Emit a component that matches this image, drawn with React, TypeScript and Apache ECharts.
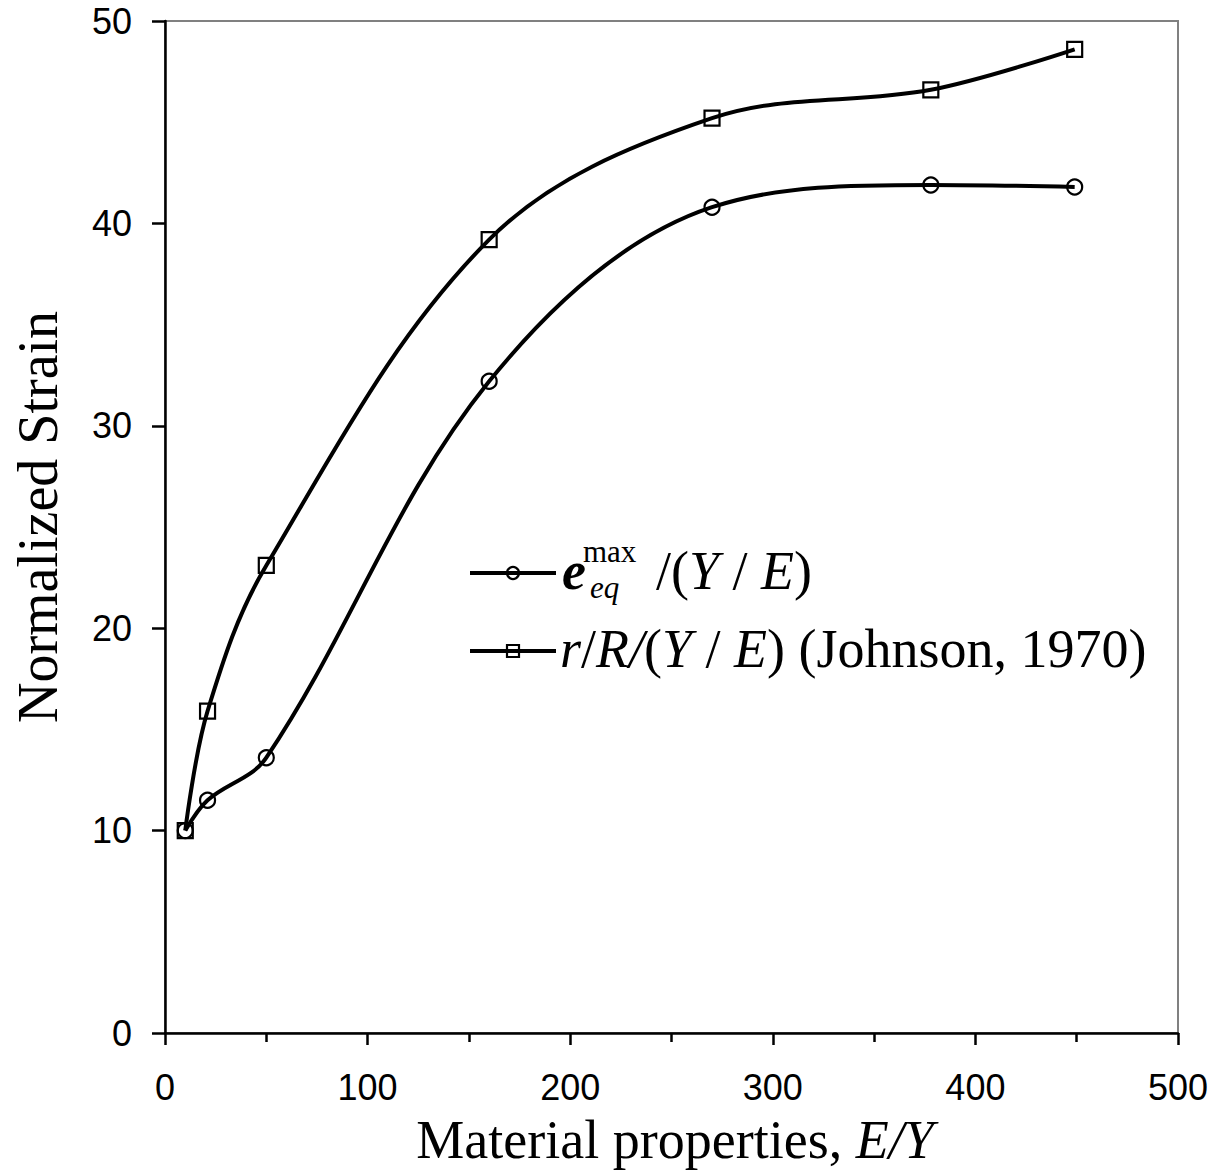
import React, { useEffect, useRef } from "react";
import * as echarts from "echarts";

const xValues = [10, 21, 50, 160, 270, 378, 449];
const strainMax = [10, 11.5, 13.6, 32.2, 40.8, 41.9, 41.8];
const johnson = [10, 15.9, 23.1, 39.2, 45.2, 46.6, 48.6];
const xTitle = "Material properties, ";
const xTitleItalic = "E/Y";
const yTitle = "Normalized Strain";

const SERIF = "'Liberation Serif', 'Times New Roman', serif";
const SANS = "'Liberation Sans', Arial, sans-serif";

export default function App() {
  const ref = useRef<HTMLDivElement>(null);
  useEffect(() => {
    if (!ref.current) return;
    const chart = echarts.init(ref.current, undefined, { renderer: "svg" });
    const pts = (ys: number[]) => xValues.map((x, i) => [x, ys[i]]);
    const lineStyle = { color: "#000", width: 4 };
    const itemStyle = { color: "transparent", borderColor: "#000", borderWidth: 2.2 };
    chart.setOption({
      animation: false,
      backgroundColor: "#fff",
      grid: {
        left: 165,
        right: 46,
        top: 21,
        bottom: 140,
        show: true,
        borderColor: "#808080",
        borderWidth: 2,
        backgroundColor: "transparent",
      },
      xAxis: {
        type: "value",
        min: 0,
        max: 500,
        interval: 100,
        axisLine: { show: true, onZero: false, lineStyle: { color: "#000", width: 2.5 } },
        axisTick: { show: true, inside: false, length: 12, lineStyle: { color: "#000", width: 2.5 } },
        minorTick: { show: true, splitNumber: 2, length: 9, lineStyle: { color: "#000", width: 2.5 } },
        splitLine: { show: false },
        axisLabel: { color: "#000", fontFamily: SANS, fontSize: 36, margin: 36 },
        name: "",
      },
      yAxis: {
        type: "value",
        min: 0,
        max: 50,
        interval: 10,
        axisLine: { show: true, onZero: false, lineStyle: { color: "#000", width: 2.5 } },
        axisTick: { show: true, inside: false, length: 13, lineStyle: { color: "#000", width: 2.5 } },
        splitLine: { show: false },
        axisLabel: { color: "#000", fontFamily: SANS, fontSize: 36, margin: 33 },
      },
      graphic: [
        {
          type: "text",
          x: 675,
          y: 1140,
          style: {
            text: "{n|" + xTitle + "}{i|" + xTitleItalic + "}",
            align: "center",
            verticalAlign: "middle",
            rich: {
              n: { fontFamily: SERIF, fontSize: 54, fill: "#000" },
              i: { fontFamily: SERIF, fontSize: 54, fontStyle: "italic", fill: "#000" },
            },
          },
        },
        {
          type: "text",
          x: 38,
          y: 517,
          rotation: Math.PI / 2,
          style: {
            text: yTitle,
            align: "center",
            verticalAlign: "middle",
            fontFamily: SERIF,
            fontSize: 56,
            fill: "#000",
          },
        },
        // legend line 1
        { type: "line", shape: { x1: 470, y1: 573, x2: 556, y2: 573 }, style: { stroke: "#000", lineWidth: 4 } },
        { type: "circle", shape: { cx: 513, cy: 573, r: 6 }, style: { fill: "transparent", stroke: "#000", lineWidth: 2.2 } },
        {
          type: "text",
          x: 562,
          y: 571,
          style: { text: "e", fontFamily: SERIF, fontSize: 54, fontWeight: "bold", fontStyle: "italic", fill: "#000", verticalAlign: "middle" },
        },
        {
          type: "text",
          x: 583,
          y: 551,
          style: { text: "max", fontFamily: SERIF, fontSize: 31, fill: "#000", verticalAlign: "middle" },
        },
        {
          type: "text",
          x: 590,
          y: 587,
          style: { text: "eq", fontFamily: SERIF, fontSize: 31, fontStyle: "italic", fill: "#000", verticalAlign: "middle" },
        },
        {
          type: "text",
          x: 656,
          y: 571,
          style: {
            text: "{n|/(}{i|Y}{n| / }{i|E}{n|)}",
            verticalAlign: "middle",
            rich: {
              n: { fontFamily: SERIF, fontSize: 54, fill: "#000" },
              i: { fontFamily: SERIF, fontSize: 54, fontStyle: "italic", fill: "#000" },
            },
          },
        },
        // legend line 2
        { type: "line", shape: { x1: 470, y1: 651, x2: 556, y2: 651 }, style: { stroke: "#000", lineWidth: 4 } },
        { type: "rect", shape: { x: 507, y: 645, width: 12, height: 12 }, style: { fill: "transparent", stroke: "#000", lineWidth: 2.2 } },
        {
          type: "text",
          x: 560,
          y: 649,
          style: {
            text: "{i|r}{n|/}{i|R/}{n|(}{i|Y}{n| / }{i|E}{n|) (Johnson, 1970)}",
            verticalAlign: "middle",
            rich: {
              n: { fontFamily: SERIF, fontSize: 54, fill: "#000" },
              i: { fontFamily: SERIF, fontSize: 54, fontStyle: "italic", fill: "#000" },
            },
          },
        },
      ],
      series: [
        {
          type: "line",
          name: "strainMax",
          data: pts(strainMax),
          smooth: 0.35,
          symbol: "circle",
          symbolSize: 15,
          lineStyle,
          itemStyle,
          z: 3,
        },
        {
          type: "line",
          name: "johnson",
          data: pts(johnson),
          smooth: 0.35,
          symbol: "rect",
          symbolSize: 15,
          lineStyle,
          itemStyle,
          z: 3,
        },
      ],
    });
    return () => chart.dispose();
  }, []);
  return (
    <div
      ref={ref}
      style={{ position: "absolute", left: 0, top: 0, width: 1224, height: 1173, background: "#fff" }}
    />
  );
}
